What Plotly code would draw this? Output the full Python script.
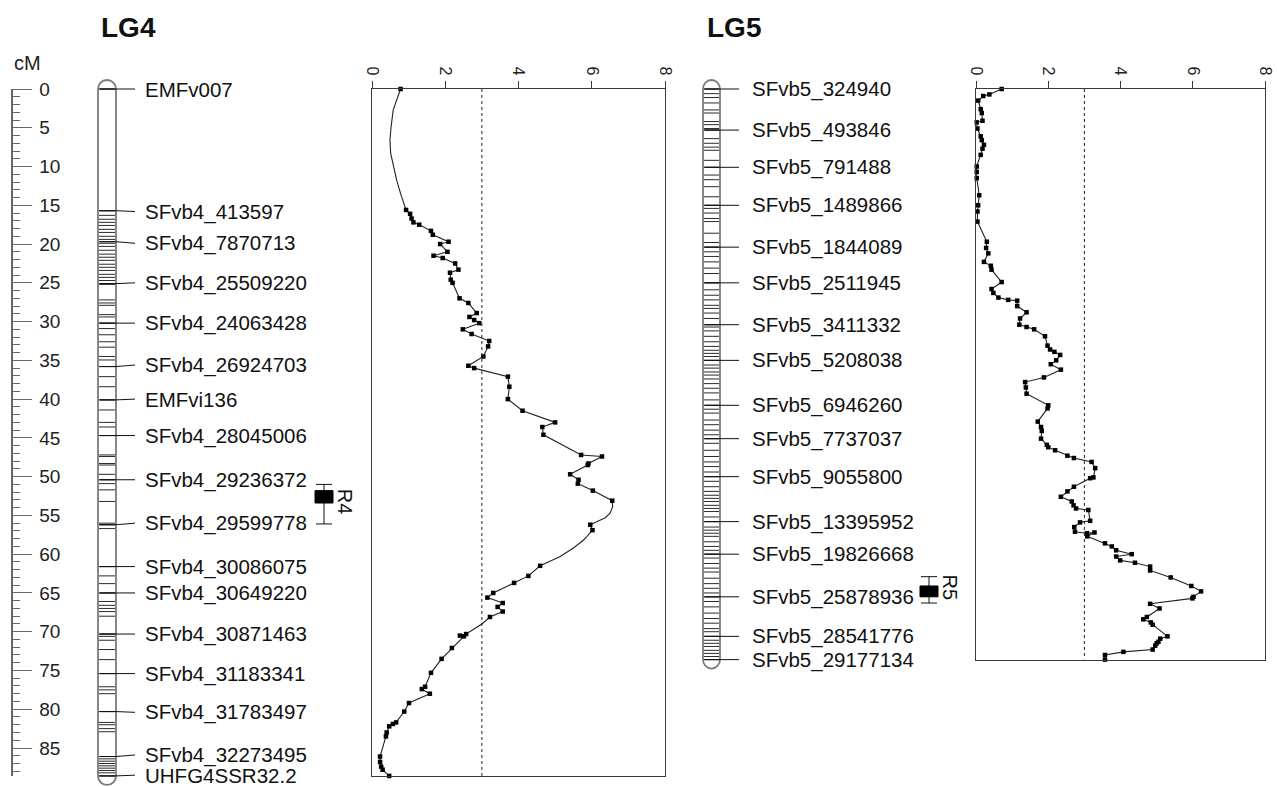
import plotly.graph_objects as go

# ---------------- data ----------------
lg4_length = 88.6
lg5_length = 73.6

lg4_labels = ["EMFv007", "SFvb4_413597", "SFvb4_7870713", "SFvb4_25509220", "SFvb4_24063428",
              "SFvb4_26924703", "EMFvi136", "SFvb4_28045006", "SFvb4_29236372", "SFvb4_29599778",
              "SFvb4_30086075", "SFvb4_30649220", "SFvb4_30871463", "SFvb4_31183341",
              "SFvb4_31783497", "SFvb4_32273495", "UHFG4SSR32.2"]
lg4_label_marker_cm = [0.0, 15.7, 19.7, 25.1, 30.2, 35.8, 40.1, 44.7, 50.4, 56.2,
                       61.6, 65.0, 70.3, 75.4, 80.3, 86.1, 88.6]
lg4_label_text_cm = [0.0, 15.8, 19.9, 25.0, 30.2, 35.6, 40.0, 44.7, 50.4, 56.0,
                     61.6, 65.0, 70.3, 75.4, 80.4, 85.9, 88.5]

lg4_markers_cm = [0.0, 15.7, 16.3, 16.8, 17.2, 17.6, 18.1, 18.5, 19.0, 19.4, 19.9, 20.3, 20.8,
                  21.3, 21.7, 22.1, 22.6, 23.0, 23.4, 23.9, 24.3, 24.7, 25.2, 27.2, 27.6, 27.9,
                  29.1, 29.4, 30.2, 30.9, 31.7, 32.6, 33.3, 34.5, 34.95, 35.8, 37.1, 38.4, 40.1,
                  41.4, 43.0, 43.6, 44.7, 47.2, 47.4, 48.3, 48.5, 49.7, 50.4, 50.9, 51.7, 53.2,
                  56.0, 56.2, 56.7, 61.6, 62.8, 63.8, 65.0, 66.1, 66.6, 67.0, 67.4, 68.0, 70.3,
                  70.6, 71.1, 72.3, 73.6, 75.4, 77.1, 77.5, 78.0, 80.3, 81.7, 82.0, 82.5, 82.9,
                  86.1, 86.4, 86.7, 87.0, 87.3, 87.6, 87.9, 88.2, 88.6]

lg5_labels = ["SFvb5_324940", "SFvb5_493846", "SFvb5_791488", "SFvb5_1489866", "SFvb5_1844089",
              "SFvb5_2511945", "SFvb5_3411332", "SFvb5_5208038", "SFvb5_6946260", "SFvb5_7737037",
              "SFvb5_9055800", "SFvb5_13395952", "SFvb5_19826668", "SFvb5_25878936",
              "SFvb5_28541776", "SFvb5_29177134"]
lg5_label_marker_cm = [0.0, 5.3, 10.1, 15.0, 20.4, 25.0, 30.4, 35.0, 40.8, 45.1,
                       50.0, 55.8, 60.0, 65.5, 70.6, 73.6]
lg5_label_text_cm = lg5_label_marker_cm

lg5_markers_cm = [0.0, 0.6, 1.1, 1.8, 2.7, 3.1, 4.2, 4.6, 5.1, 5.3, 6.4, 7.0, 7.5, 7.9, 9.2, 10.1,
                  11.1, 11.7, 12.6, 13.9, 15.0, 15.4, 16.0, 16.7, 17.1, 18.6, 19.8, 20.4, 21.0,
                  21.6, 22.3, 23.1, 23.8, 25.0, 25.9, 26.6, 27.2, 27.9, 28.3, 28.9, 29.6, 30.4,
                  30.7, 31.2, 31.9, 32.6, 33.2, 33.7, 34.1, 34.5, 35.0, 35.6, 36.0, 36.5, 36.9,
                  37.4, 38.0, 38.6, 39.2, 40.1, 40.8, 41.3, 41.8, 42.7, 43.3, 44.0, 44.6, 45.1,
                  45.7, 46.6, 47.4, 48.1, 48.7, 49.4, 50.0, 50.6, 51.3, 51.9, 52.4, 52.8, 53.2,
                  53.7, 54.1, 54.5, 55.2, 55.8, 56.5, 56.9, 57.3, 57.7, 58.4, 59.0, 59.5, 60.0,
                  60.5, 61.2, 61.8, 62.3, 63.1, 63.8, 64.4, 65.0, 65.5, 66.1, 66.8, 67.6, 68.3,
                  68.9, 69.6, 70.0, 70.6, 71.1, 71.5, 71.9, 72.4, 72.8, 73.2, 73.6]

# LOD profile LG4: points at markers
lg4_lod_cm = [0.0, 15.6, 16.1, 16.7, 17.2, 17.5, 18.3, 18.8, 19.7, 20.0, 21.0, 21.5, 21.8, 22.5,
              23.3, 23.7, 24.6, 25.0, 27.0, 27.6, 28.9, 29.4, 29.8, 30.2, 31.0, 31.6, 32.5, 33.2,
              34.5, 35.7, 36.0, 37.1, 38.4, 40.0, 41.5, 43.0, 43.6, 44.6, 47.2, 47.4, 48.3, 48.5,
              49.7, 50.4, 50.9, 51.8, 53.1, 56.2, 56.9, 61.5, 62.8, 63.7, 65.0, 65.6, 66.3, 66.8,
              67.4, 68.1, 70.3, 70.5, 70.6, 72.1, 73.5, 75.3, 77.1, 77.4, 78.0, 79.2, 80.3, 81.7,
              81.9, 82.2, 83.0, 83.5, 86.1, 86.8, 87.4, 87.8, 88.6]
lg4_lod = [0.78, 0.93, 1.04, 1.08, 1.13, 1.29, 1.61, 1.66, 2.09, 1.86, 2.06, 1.68, 1.93, 2.27,
           2.36, 2.13, 2.15, 2.20, 2.39, 2.63, 2.86, 2.66, 2.79, 2.93, 2.48, 2.72, 3.20, 3.17,
           3.04, 2.63, 2.79, 3.71, 3.75, 3.71, 4.11, 5.00, 4.65, 4.68, 5.71, 6.28, 5.91, 5.89,
           5.41, 5.64, 5.62, 6.03, 6.56, 5.96, 6.02, 4.59, 4.27, 3.88, 3.31, 3.15, 3.57, 3.43,
           3.57, 3.22, 2.57, 2.40, 2.51, 2.18, 1.90, 1.61, 1.45, 1.36, 1.58, 1.01, 0.88, 0.66,
           0.57, 0.47, 0.40, 0.38, 0.22, 0.22, 0.25, 0.29, 0.47]
# LOD profile LG4: intermediate positions between markers (no marker symbol)
lg4_curve_cm = [1.4, 2.7, 4.9, 6.6, 8.3, 10.0, 11.7, 13.5, 14.7, 53.9, 54.7, 55.3,
                57.7, 58.2, 59.2, 60.3, 61.1, 69.0]
lg4_curve_lod = [0.67, 0.58, 0.52, 0.49, 0.51, 0.58, 0.67, 0.78, 0.87, 6.57, 6.50, 6.37,
                 5.87, 5.77, 5.50, 5.14, 4.77, 3.00]

lg5_lod_cm = [0.0, 0.7, 0.9, 1.5, 2.6, 3.1, 4.1, 4.3, 5.1, 6.1, 6.6, 7.2, 7.7, 8.5, 10.0, 10.7,
              11.5, 13.7, 15.0, 15.8, 17.1, 19.7, 20.5, 21.2, 22.3, 22.8, 23.3, 24.9, 25.8, 26.3,
              26.9, 27.2, 27.3, 28.0, 28.8, 29.6, 30.4, 30.7, 31.0, 31.9, 33.1, 33.6, 33.9, 34.3,
              35.0, 35.5, 36.2, 37.2, 37.8, 38.5, 39.3, 40.8, 41.2, 42.9, 43.6, 44.1, 45.1, 45.9,
              46.2, 46.6, 47.3, 47.6, 48.1, 48.9, 50.1, 50.2, 51.3, 51.9, 52.6, 53.2, 53.7, 54.1,
              54.3, 55.7, 55.9, 56.5, 57.1, 57.3, 57.2, 57.7, 58.6, 59.0, 59.5, 60.0, 60.3, 60.8,
              61.1, 61.6, 62.1, 63.0, 64.1, 64.8, 65.5, 65.7, 66.4, 67.0, 68.1, 68.4, 68.8, 69.1,
              70.6, 70.9, 71.3, 71.5, 71.8, 72.3, 72.6, 73.0, 73.6]
lg5_lod = [0.71, 0.37, 0.20, 0.06, 0.13, 0.16, 0.18, 0.02, 0.04, 0.13, 0.16, 0.22, 0.18, 0.13,
           0.02, 0.02, 0.02, 0.09, 0.06, 0.04, 0.04, 0.30, 0.28, 0.34, 0.22, 0.41, 0.43, 0.71,
           0.43, 0.48, 0.62, 0.89, 1.14, 1.14, 1.40, 1.22, 1.20, 1.40, 1.61, 1.91, 1.98, 2.05,
           2.17, 2.33, 2.22, 2.07, 2.35, 1.88, 1.36, 1.38, 1.40, 2.00, 1.98, 1.71, 1.80, 1.82,
           1.80, 1.96, 2.00, 2.19, 2.53, 2.71, 3.20, 3.30, 3.25, 3.16, 2.71, 2.53, 2.35, 2.65,
           2.70, 2.77, 3.11, 3.16, 2.88, 2.72, 2.74, 3.07, 3.28, 3.08, 3.57, 3.76, 3.88, 4.31,
           3.88, 3.99, 4.40, 4.82, 4.82, 5.39, 5.96, 6.23, 6.02, 5.99, 4.82, 5.08, 4.73, 4.63,
           4.84, 4.89, 5.30, 5.10, 5.05, 5.00, 4.96, 4.89, 4.08, 3.57, 3.57]

lod_threshold = 3.0
lod_ticks = [0, 2, 4, 6, 8]

# QTL intervals: name, outer low, box low, box high, outer high (cM)
qtl_names = ["R4", "R5"]
qtl_outer_lo = [51.0, 62.9]
qtl_box_lo = [51.8, 64.1]
qtl_box_hi = [53.4, 65.5]
qtl_outer_hi = [56.1, 66.3]

# ---------------- layout geometry ----------------
W, H = 1277, 787
Y0 = 89.0       # pixel row of 0 cM
PPC = 7.753     # pixels per cM
FONT = "Liberation Sans, Arial, sans-serif"
LINE = "#3a3a3a"


def yfrac(cm):
    return 1 - (Y0 + cm * PPC) / H


fig = go.Figure()

K = 0.5523


def capsule(xl, xr, length, r_px=9.0):
    xc = (xl + xr) / 2
    rx = (xr - xl) / 2
    ry = r_px / PPC
    t, b = 0.0, length
    return (f"M {xl},{t} C {xl},{t - K * ry} {xc - K * rx},{t - ry} {xc},{t - ry} "
            f"C {xc + K * rx},{t - ry} {xr},{t - K * ry} {xr},{t} "
            f"L {xr},{b} C {xr},{b + K * ry} {xc + K * rx},{b + ry} {xc},{b + ry} "
            f"C {xc - K * rx},{b + ry} {xl},{b + K * ry} {xl},{b} Z")


chroms = [
    dict(xl=98, xr=116, conn_end=135, text_x=143, length=lg4_length,
         markers=lg4_markers_cm, labels=lg4_labels, lab_m=lg4_label_marker_cm,
         lab_t=lg4_label_text_cm),
    dict(xl=703, xr=720, conn_end=739, text_x=750, length=lg5_length,
         markers=lg5_markers_cm, labels=lg5_labels, lab_m=lg5_label_marker_cm,
         lab_t=lg5_label_text_cm),
]

shapes = []
annotations = []
for c in chroms:
    shapes.append(dict(type="path", xref="x", yref="y", path=capsule(c["xl"], c["xr"], c["length"]),
                       line=dict(color="#7a7a7a", width=1.8), fillcolor="white", layer="below"))
    xs, ys = [], []
    for m in list(c["markers"]) + list(c["lab_m"]):
        xs += [c["xl"] + 1, c["xr"] - 1, None]
        ys += [m, m, None]
    fig.add_trace(go.Scatter(x=xs, y=ys, xaxis="x", yaxis="y", mode="lines",
                             line=dict(color="#2a2a2a", width=1), hoverinfo="skip", showlegend=False))
    cx, cy = [], []
    for m, t in zip(c["lab_m"], c["lab_t"]):
        cx += [c["xl"] + 2, c["xr"], c["conn_end"], None]
        cy += [m, m, t, None]
    fig.add_trace(go.Scatter(x=cx, y=cy, xaxis="x", yaxis="y", mode="lines",
                             line=dict(color="#111111", width=1), hoverinfo="skip", showlegend=False))
    for lab, t in zip(c["labels"], c["lab_t"]):
        annotations.append(dict(x=c["text_x"], y=t, xref="x", yref="y", text=lab, showarrow=False,
                                xanchor="left", yanchor="middle",
                                font=dict(family=FONT, size=20.5, color="#111111")))

# ---- QTL interval symbols ----
qtl_x = [324, 929]
qtl_text_x = [345, 950]
for i, name in enumerate(qtl_names):
    x0 = qtl_x[i]
    wx = [x0, x0, None, x0 - 8, x0 + 8, None, x0 - 8, x0 + 8]
    wy = [qtl_outer_lo[i], qtl_outer_hi[i], None, qtl_outer_lo[i], qtl_outer_lo[i], None,
          qtl_outer_hi[i], qtl_outer_hi[i]]
    fig.add_trace(go.Scatter(x=wx, y=wy, xaxis="x", yaxis="y", mode="lines",
                             line=dict(color="#111111", width=1), hoverinfo="skip", showlegend=False))
    bx = [x0 - 9, x0 + 9, x0 + 9, x0 - 9, x0 - 9]
    by = [qtl_box_lo[i], qtl_box_lo[i], qtl_box_hi[i], qtl_box_hi[i], qtl_box_lo[i]]
    fig.add_trace(go.Scatter(x=bx, y=by, xaxis="x", yaxis="y", mode="lines", fill="toself",
                             fillcolor="black", line=dict(color="black", width=1),
                             hoverinfo="skip", showlegend=False))
    annotations.append(dict(x=qtl_text_x[i], y=(qtl_outer_lo[i] + qtl_outer_hi[i]) / 2 - 0.3,
                            xref="x", yref="y", text=name, showarrow=False, textangle=90,
                            xanchor="center", yanchor="middle",
                            font=dict(family=FONT, size=20, color="#111111")))

# ---- LOD profiles ----
profiles = [
    ("x2", "y2", lg4_lod_cm, lg4_lod, lg4_curve_cm, lg4_curve_lod, lg4_length),
    ("x3", "y3", lg5_lod_cm, lg5_lod, [], [], lg5_length),
]
for xa, ya, mcm, mlod, ccm, clod, L in profiles:
    if ccm:
        pts = sorted(zip(list(mcm) + list(ccm), list(mlod) + list(clod)), key=lambda p: p[0])
        line_x = [p[1] for p in pts]
        line_y = [p[0] for p in pts]
    else:
        line_x, line_y = list(mlod), list(mcm)
    fig.add_trace(go.Scatter(x=line_x, y=line_y, xaxis=xa, yaxis=ya, mode="lines",
                             line=dict(color="#222222", width=1.1), hoverinfo="skip",
                             showlegend=False, cliponaxis=False))
    fig.add_trace(go.Scatter(x=mlod, y=mcm, xaxis=xa, yaxis=ya, mode="markers",
                             marker=dict(symbol="square", size=4.5, color="black"),
                             hoverinfo="skip", showlegend=False, cliponaxis=False))
    shapes.append(dict(type="line", xref=xa, yref=ya, x0=lod_threshold, x1=lod_threshold,
                       y0=0, y1=L, line=dict(color="#222222", width=1, dash="dot")))

# dummy trace so the cM ruler axis is drawn
fig.add_trace(go.Scatter(x=[None], y=[None], xaxis="x2", yaxis="y4", showlegend=False,
                         hoverinfo="skip"))

# ---- titles ----
for txt, xp in [("LG4", 99), ("LG5", 705)]:
    annotations.append(dict(x=xp / W, y=1 - 28 / H, xref="paper", yref="paper", text=f"<b>{txt}</b>",
                            showarrow=False, xanchor="left", yanchor="middle",
                            font=dict(family=FONT, size=28, color="#111111")))
annotations.append(dict(x=27 / W, y=1 - 63 / H, xref="paper", yref="paper", text="cM",
                        showarrow=False, xanchor="center", yanchor="middle",
                        font=dict(family=FONT, size=20, color="#222222")))

lod_x_common = dict(range=[0, 8], tickvals=lod_ticks, ticks="outside", ticklen=7, tickwidth=1,
                    tickcolor=LINE, side="top", tickangle=90, showline=True, mirror=True,
                    linecolor=LINE, linewidth=1, showgrid=False, zeroline=False, automargin=False,
                    tickfont=dict(family=FONT, size=16, color="#222222"), fixedrange=True)
lod_y_common = dict(showline=True, mirror=True, linecolor=LINE, linewidth=1, ticks="",
                    showticklabels=False, showgrid=False, zeroline=False, fixedrange=True,
                    automargin=False)

fig.update_layout(
    width=W, height=H,
    margin=dict(l=0, r=0, t=0, b=0, pad=0, autoexpand=False),
    paper_bgcolor="white", plot_bgcolor="rgba(0,0,0,0)",
    showlegend=False,
    xaxis=dict(domain=[0, 1], range=[0, W], visible=False, anchor="y", fixedrange=True,
               automargin=False),
    yaxis=dict(domain=[0, 1], range=[(H - Y0) / PPC, -Y0 / PPC], visible=False, anchor="x",
               fixedrange=True, automargin=False),
    xaxis2=dict(domain=[372 / W, 665 / W], anchor="y2", **lod_x_common),
    yaxis2=dict(domain=[yfrac(lg4_length), yfrac(0)], anchor="x2",
                range=[lg4_length, 0], **lod_y_common),
    xaxis3=dict(domain=[976 / W, 1265 / W], anchor="y3", **lod_x_common),
    yaxis3=dict(domain=[yfrac(lg5_length), yfrac(0)], anchor="x3",
                range=[lg5_length, 0], **lod_y_common),
    yaxis4=dict(overlaying="y2", anchor="free", position=11 / W, side="right", autoshift=False,
                range=[lg4_length, 0], dtick=5, tick0=0, ticks="outside", ticklen=19,
                tickwidth=1, tickcolor="#666666", showline=True, linecolor="#666666",
                linewidth=1.5, showgrid=False, zeroline=False, fixedrange=True, automargin=False,
                ticklabelstandoff=4,
                minor=dict(dtick=1, tick0=0, ticks="outside", ticklen=7, tickwidth=1,
                           tickcolor="#666666", showgrid=False),
                tickfont=dict(family=FONT, size=19, color="#222222")),
    shapes=shapes,
    annotations=annotations,
)

fig.write_html("out.html",
               config={"displayModeBar": False, "staticPlot": True},
               post_script="document.body.style.margin='0';document.body.style.overflow='hidden';")
